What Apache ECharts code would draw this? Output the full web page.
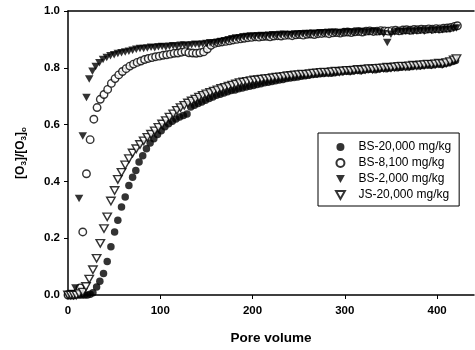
<!DOCTYPE html>
<html>
<head>
<meta charset="utf-8">
<script src="https://cdn.jsdelivr.net/npm/echarts@6/dist/echarts.min.js"></script>
<style>html,body{margin:0;padding:0;background:#fff}#c{width:475px;height:350px}</style>
</head>
<body>
<div id="c"></div>
<script>
// ---- data ----
const seriesNames = ['BS-20,000 mg/kg', 'BS-8,100 mg/kg', 'BS-2,000 mg/kg', 'JS-20,000 mg/kg'];
const xTicks = [0, 100, 200, 300, 400];
const yTicks = [0, 0.2, 0.4, 0.6, 0.8, 1.0];

const bs20000X = [0,3,6,9,12,15,18,21,24,27,31,34.5,38.5,42.5,46.5,50.5,54,58,62,66,70,73.5,77,81,85,89,93,97,101,105,109,113,117,121,125,129,133,137,141,145,149,153,157,161,165,169,173,177,181,185,189,193,197,201,205,209,213,217,221,225,229,233,237,241,245,249,253,257,261,265,269,273,277,281,285,289,293,297,301,305,309,313,317,321,325,329,333,337,341,345,349,353,357,361,365,369,373,377,381,385,389,393,397,401,405,409,413,417,420];
const bs20000Y = [0,0,0,0,0,0,0,0,0.003,0.008,0.028,0.048,0.076,0.118,0.17,0.222,0.263,0.31,0.345,0.386,0.415,0.438,0.468,0.49,0.515,0.535,0.55,0.565,0.578,0.592,0.603,0.612,0.62,0.627,0.632,0.637,0.662,0.668,0.674,0.68,0.686,0.692,0.697,0.703,0.707,0.711,0.716,0.72,0.722,0.726,0.729,0.732,0.735,0.738,0.741,0.744,0.747,0.749,0.752,0.754,0.757,0.759,0.762,0.764,0.766,0.768,0.77,0.772,0.774,0.776,0.777,0.779,0.78,0.782,0.781,0.783,0.785,0.786,0.788,0.787,0.789,0.791,0.79,0.792,0.794,0.795,0.793,0.796,0.798,0.797,0.799,0.801,0.8,0.802,0.804,0.803,0.805,0.807,0.806,0.808,0.81,0.809,0.811,0.813,0.812,0.815,0.818,0.822,0.826];

const bs8100X = [0,3,6,9,13,16,20,24,28,31.5,35,39,43,47,51,55,59,63,67,71,75,79,83,87,91,95,99,103,107,111,115,119,123,127,131,135,139,143,147,151,155,159,163,167,171,175,179,183,187,191,195,199,203,207,211,215,219,223,227,231,235,239,243,247,251,255,259,263,267,271,275,279,283,287,291,295,299,303,307,311,315,319,323,327,331,335,339,343,347,351,355,359,363,367,371,375,379,383,387,391,395,399,403,407,411,415,419,422];
const bs8100Y = [0,0,0,0.005,0.025,0.222,0.427,0.547,0.619,0.66,0.689,0.706,0.724,0.745,0.762,0.775,0.787,0.797,0.806,0.813,0.819,0.824,0.829,0.833,0.836,0.839,0.841,0.844,0.846,0.848,0.851,0.852,0.855,0.857,0.853,0.852,0.851,0.853,0.856,0.866,0.879,0.886,0.889,0.891,0.893,0.895,0.898,0.9,0.902,0.904,0.906,0.907,0.909,0.908,0.91,0.911,0.909,0.912,0.913,0.912,0.914,0.915,0.913,0.916,0.917,0.915,0.918,0.919,0.917,0.92,0.921,0.922,0.92,0.923,0.924,0.922,0.925,0.926,0.924,0.927,0.928,0.926,0.929,0.93,0.928,0.929,0.931,0.93,0.929,0.931,0.932,0.93,0.933,0.934,0.932,0.935,0.934,0.936,0.935,0.937,0.936,0.938,0.937,0.939,0.94,0.942,0.946,0.948];

const bs2000X = [0,4,8,12,16,20,23,26.5,30,34,38,42,46,50,54,58,62,66,70,74,78,82,86,90,94,98,102,106,110,114,118,122,126,130,134,138,142,146,150,154,158,162,166,170,174,178,182,186,190,194,198,202,206,210,214,218,222,226,230,234,238,242,246,250,254,258,262,266,270,274,278,282,286,290,294,298,302,306,310,314,318,322,326,330,334,338,342,346,350,354,358,362,366,370,374,378,382,386,390,394,398,402,406,410,414,418,421];
const bs2000Y = [0,0.005,0.025,0.34,0.56,0.695,0.761,0.788,0.805,0.818,0.829,0.836,0.842,0.846,0.85,0.853,0.856,0.858,0.862,0.865,0.868,0.868,0.87,0.872,0.871,0.874,0.875,0.873,0.876,0.878,0.876,0.879,0.88,0.878,0.881,0.883,0.881,0.884,0.886,0.888,0.887,0.89,0.893,0.895,0.899,0.902,0.905,0.906,0.909,0.91,0.912,0.911,0.913,0.914,0.912,0.915,0.916,0.914,0.917,0.918,0.916,0.917,0.919,0.918,0.92,0.921,0.919,0.922,0.921,0.923,0.922,0.924,0.925,0.923,0.922,0.924,0.926,0.925,0.924,0.926,0.927,0.925,0.926,0.928,0.927,0.925,0.92,0.889,0.918,0.926,0.928,0.927,0.929,0.93,0.928,0.93,0.931,0.929,0.932,0.931,0.933,0.932,0.934,0.936,0.935,0.938,0.94];

const js20000X = [0,3,6,9,12,16,19.5,23,27,31,35,39,42.5,46.5,50.5,54,58,62,66,70,74,78,82,86,90,94,98,102,106,110,114,118,122,126,130,134,138,142,146,150,154,158,162,166,170,174,178,182,186,190,194,198,202,206,210,214,218,222,226,230,234,238,242,246,250,254,258,262,266,270,274,278,282,286,290,294,298,302,306,310,314,318,322,326,330,334,338,342,346,350,354,358,362,366,370,374,378,382,386,390,394,398,402,406,410,414,418,421];
const js20000Y = [0,0,0,0,0.005,0.01,0.03,0.056,0.089,0.129,0.182,0.234,0.275,0.331,0.368,0.407,0.432,0.458,0.48,0.5,0.515,0.53,0.543,0.555,0.566,0.578,0.59,0.602,0.614,0.626,0.638,0.65,0.66,0.668,0.676,0.683,0.69,0.697,0.703,0.708,0.713,0.718,0.722,0.727,0.731,0.735,0.739,0.743,0.748,0.75,0.752,0.755,0.757,0.758,0.76,0.762,0.763,0.765,0.767,0.768,0.77,0.772,0.773,0.775,0.776,0.778,0.777,0.779,0.781,0.782,0.784,0.785,0.784,0.786,0.788,0.787,0.789,0.791,0.79,0.792,0.794,0.793,0.795,0.797,0.796,0.798,0.799,0.8,0.802,0.801,0.803,0.805,0.806,0.805,0.807,0.809,0.808,0.81,0.811,0.813,0.812,0.814,0.816,0.815,0.818,0.822,0.828,0.832];

// ---- chart ----
function pairs(xs, ys) { return xs.map((x, i) => [x, ys[i]]); }
const FONT = '"Liberation Sans", Arial, sans-serif';
const downTri = 'path://M0,0L10,0L5,9Z';

const chart = echarts.init(document.getElementById('c'), null, { renderer: 'canvas' });
chart.setOption({
  animation: false,
  backgroundColor: '#fff',
  grid: { left: 68, top: 11, right: 1, bottom: 53, containLabel: false },
  legend: {
    orient: 'vertical', left: 318, top: 133,
    padding: [7, 8, 4, 17], itemGap: 2,
    itemWidth: 26, itemHeight: 8,
    borderColor: '#000', borderWidth: 1, backgroundColor: '#fff',
    textStyle: { fontFamily: FONT, fontSize: 12, color: '#000', lineHeight: 14 },
    data: seriesNames
  },
  xAxis: [{
    type: 'value', min: 0, max: 440, interval: 100,
    name: 'Pore volume', nameLocation: 'middle', nameGap: 36,
    nameTextStyle: { fontFamily: FONT, fontSize: 13.5, fontWeight: 'bold', color: '#000' },
    axisLine: { lineStyle: { color: '#000', width: 1.5 } },
    axisTick: { show: true, length: 4, lineStyle: { color: '#000' }, customValues: xTicks },
    axisLabel: { fontFamily: FONT, fontSize: 11.5, fontWeight: 'bold', color: '#000', margin: 10, customValues: xTicks },
    splitLine: { show: false }
  }, {
    type: 'value', position: 'top', min: 0, max: 440,
    axisLine: { show: true, onZero: false, lineStyle: { color: '#000', width: 1.5 } },
    axisTick: { show: false }, axisLabel: { show: false }, splitLine: { show: false }
  }],
  yAxis: {
    type: 'value', min: 0, max: 1, interval: 0.2,
    name: '[O{s|3}]/[O{s|3}]{s|o}', nameLocation: 'middle', nameGap: 40,
    nameTextStyle: {
      fontFamily: FONT, fontSize: 12, fontWeight: 'bold', color: '#000',
      rich: { s: { fontFamily: FONT, fontSize: 8, fontWeight: 'bold', color: '#000', verticalAlign: 'bottom', padding: [6, 0, 0, 0] } }
    },
    axisLine: { show: true, lineStyle: { color: '#000', width: 1.5 } },
    axisTick: { show: true, length: 4, lineStyle: { color: '#000' } },
    axisLabel: { fontFamily: FONT, fontSize: 11.5, fontWeight: 'bold', color: '#000', margin: 8,
      formatter: v => v.toFixed(1) },
    splitLine: { show: false }
  },
  series: [
    { name: seriesNames[0], type: 'scatter', data: pairs(bs20000X, bs20000Y),
      symbol: 'circle', symbolSize: 7.5, itemStyle: { color: '#000' } },
    { name: seriesNames[1], type: 'scatter', data: pairs(bs8100X, bs8100Y),
      symbol: 'circle', symbolSize: 7.5, itemStyle: { color: '#fff', borderColor: '#000', borderWidth: 1.4 } },
    { name: seriesNames[2], type: 'scatter', data: pairs(bs2000X, bs2000Y),
      symbol: downTri, symbolSize: [8.5, 7.5], itemStyle: { color: '#000' } },
    { name: seriesNames[3], type: 'scatter', data: pairs(js20000X, js20000Y),
      symbol: downTri, symbolSize: [8.5, 7.5], itemStyle: { color: '#fff', borderColor: '#000', borderWidth: 1.4 } }
  ]
});
</script>
</body>
</html>
